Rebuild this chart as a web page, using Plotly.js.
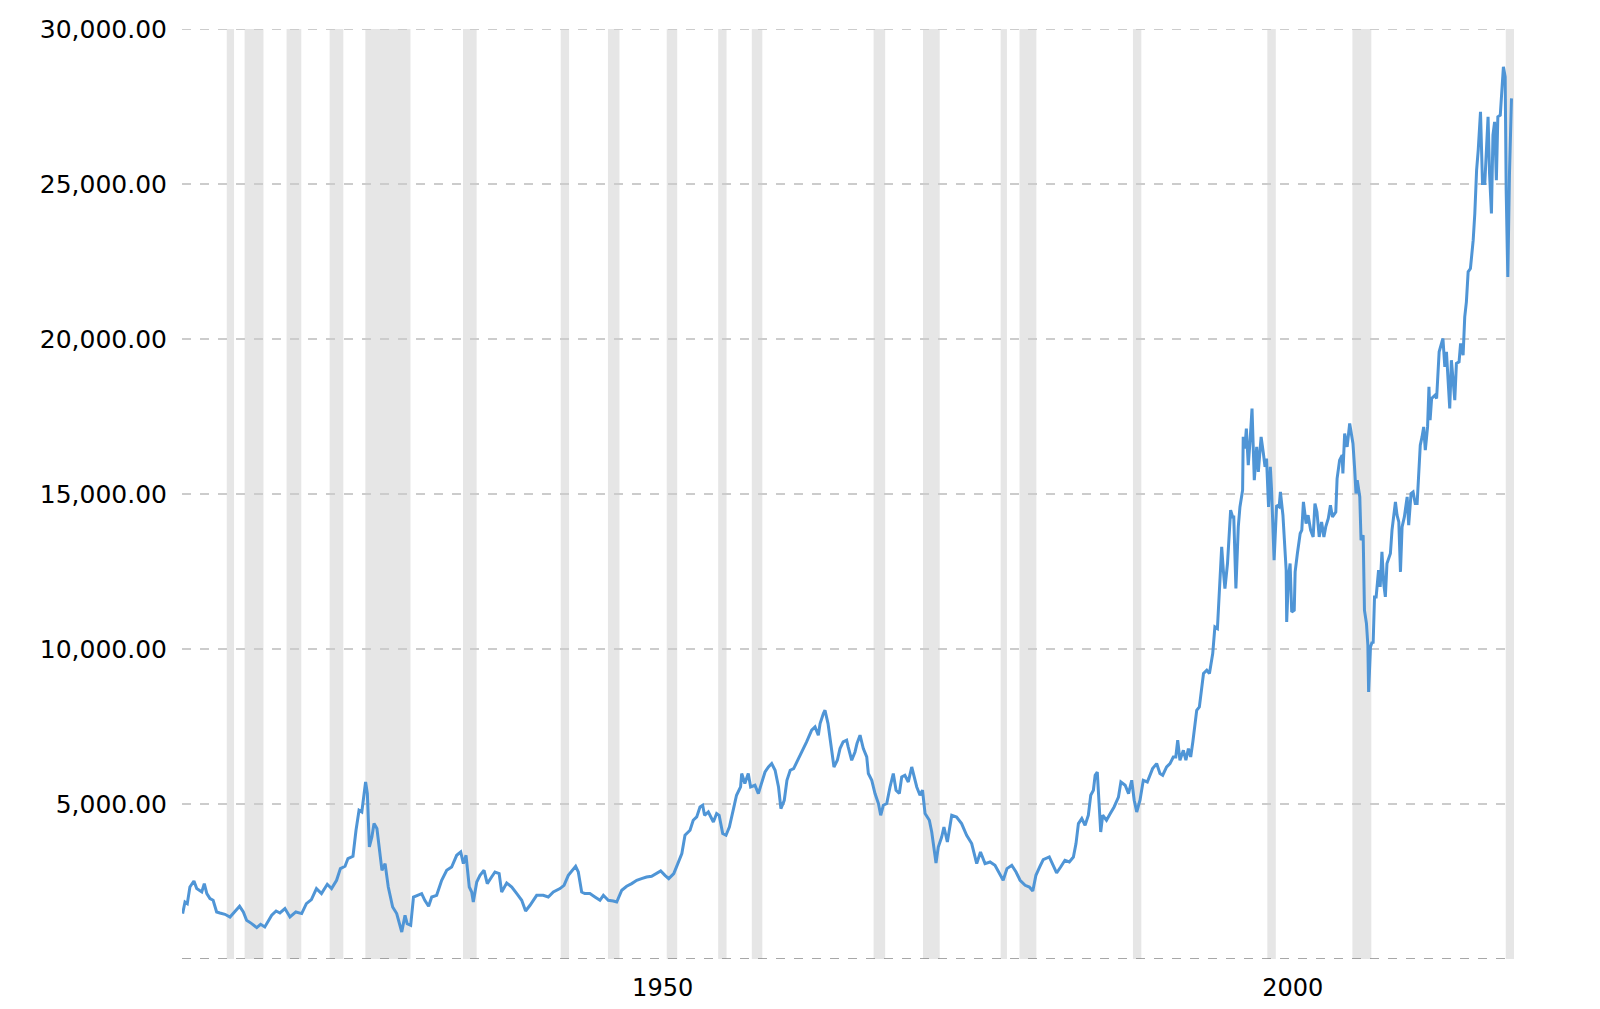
<!DOCTYPE html>
<html>
<head>
<meta charset="utf-8">
<script src="https://cdn.plot.ly/plotly-3.0.1.min.js"></script>
<style>
  html, body { margin: 0; padding: 0; background: #ffffff; }
  #chart { width: 1600px; height: 1009px; }
</style>
</head>
<body>
<div id="chart"></div>
<script>
// Decimal years and inflation-adjusted index values
const years = [
1915.08,1915.27,1915.45,1915.66,1915.98,1916.2,1916.6,1916.8,1917.0,1917.25,1917.5,1917.78,1918.04,1918.44,1918.84,1919.2,1919.6,1919.9,
1920.16,1920.56,1920.96,1921.27,1921.6,1922.15,1922.5,1922.8,1923.2,1923.6,1924.07,1924.53,1924.9,1925.3,1925.7,1926.1,1926.56,1926.9,
1927.3,1927.6,1927.97,1928.2,1928.6,1928.84,1929.08,1929.3,1929.4,1929.6,1929.74,1929.9,1930.1,1930.27,1930.5,1930.9,1931.15,1931.4,
1931.75,1932.07,1932.47,1932.73,1932.9,1933.18,
1933.4,1933.7,1934.05,1934.3,1934.6,1934.85,1935.24,1935.64,1936.04,1936.43,1936.83,1937.15,1937.36,1937.57,1937.83,1938.02,1938.15,
1938.42,1938.68,1939.0,1939.26,1939.6,1939.87,1940.2,1940.4,1940.8,1941.2,1941.6,1941.99,1942.3,1942.65,1943.18,1943.7,1944.1,1944.5,
1945.03,1945.35,1945.69,1946.0,1946.27,1946.48,1946.75,1947.0,1947.4,1947.8,1948.2,1948.47,1948.86,1949.26,1949.53,1949.93,1950.32,
1950.72,1951.12,1951.5,1951.9,1952.3,1952.7,1953.02,1953.36,
1953.66,1954.06,1954.46,1954.7,1954.95,1955.35,1955.6,1955.88,1956.14,1956.35,1956.5,1956.8,1957.2,1957.46,1957.66,1957.94,1958.2,
1958.47,1958.8,1959.04,1959.36,1959.45,1959.7,1959.97,1960.16,1960.5,1960.77,1961.04,1961.3,1961.57,1961.83,1962.1,1962.37,1962.56,
1962.83,1963.04,1963.3,1963.57,1963.9,1964.25,1964.6,1965.0,1965.27,1965.53,1965.67,1965.93,1966.06,1966.3,1966.5,1966.77,1967.04,
1967.25,1967.5,1967.78,1967.9,1968.18,1968.44,1968.6,1968.84,1969.1,1969.37,1969.5,1969.77,1970.03,1970.3,1970.48,1970.69,1970.96,
1971.22,1971.48,1971.7,1971.96,1972.15,1972.4,1972.67,1972.94,
1973.34,1973.6,1973.8,1974.0,1974.34,1974.53,1974.87,1975.05,1975.32,1975.5,1975.77,1976.12,1976.5,1976.9,1977.3,1977.7,1978.1,1978.4,
1978.76,1979.16,1979.55,1979.9,1980.2,1980.5,1980.88,1981.22,1981.54,1981.94,1982.28,1982.55,1982.8,1983.1,1983.38,1983.86,1984.17,
1984.44,1984.76,1985.1,1985.45,1985.77,1985.98,1986.17,1986.44,1986.7,1986.96,1987.15,1987.36,1987.5,1987.67,1987.8,1987.94,1988.1,
1988.4,1988.7,1989.0,1989.35,1989.54,1989.88,1990.15,1990.4,1990.6,1990.8,1991.06,1991.32,1991.64,
1992.06,1992.38,1992.64,1992.86,1993.17,1993.44,1993.7,1993.9,1994.05,1994.23,1994.5,1994.7,1994.9,1995.08,1995.25,1995.43,1995.56,
1995.77,1995.96,1996.1,1996.36,1996.57,
1996.83,1997.0,1997.2,1997.35,1997.54,1997.67,1997.8,1998.0,1998.14,1998.25,1998.41,1998.5,1998.67,1998.86,1998.99,1999.2,1999.25,
1999.38,1999.5,1999.65,1999.8,1999.95,2000.13,2000.32,2000.45,2000.67,2000.85,2000.98,2001.1,2001.26,2001.4,2001.5,2001.7,2001.9,
2002.1,2002.2,2002.4,2002.66,2002.7,2002.84,2002.97,2003.1,2003.3,2003.37,2003.55,2003.77,2003.9,2004.03,2004.24,2004.4,2004.6,
2004.8,2004.94,2005.1,2005.28,2005.47,2005.65,2005.8,2006.0,2006.17,2006.33,2006.6,2006.7,2006.9,2007.1,2007.16,2007.3,2007.5,
2007.7,2007.83,
2007.96,2008.1,2008.2,2008.3,2008.5,2008.6,2008.77,2008.87,2009.03,2009.14,2009.2,2009.35,2009.48,2009.56,2009.67,2009.8,2009.99,
2010.12,2010.26,2010.4,2010.53,2010.66,2010.8,2010.93,2011.06,2011.2,2011.33,2011.46,2011.6,2011.73,2011.86,2012.04,2012.26,2012.38,
2012.57,2012.73,2012.9,2013.05,2013.17,2013.3,2013.44,2013.57,2013.7,2013.88,2013.99,
2014.08,2014.2,2014.47,2014.6,2014.8,2015.1,2015.25,2015.38,2015.64,2015.77,2016.04,2016.17,2016.38,2016.5,2016.7,2016.83,2016.96,
2017.1,2017.28,2017.5,2017.63,2017.77,2017.9,2018.08,2018.24,2018.42,2018.55,2018.68,2018.8,2018.95,2019.07,2019.2,2019.34,2019.46,
2019.65,2019.8,2019.9,2020.04,2020.12,2020.25,2020.38,2020.54
];
const values = [
1465,1839,1787,2323,2517,2271,2162,2433,2110,1949,1894,1517,1484,1442,1355,1517,1700,1517,
1249,1142,1013,1120,1033,1410,1549,1484,1626,1355,1517,1465,1787,1917,2271,2110,2410,2271,
2540,2917,2991,3240,3314,4153,4798,4743,5066,5712,5337,3614,3937,4369,4208,2862,3078,2323,
1678,1465,871,1410,1142,1087,
2000,2055,2110,1894,1700,2000,2055,2540,2862,2969,3346,3453,3078,3346,2323,2162,1839,
2485,2700,2862,2433,2646,2807,2755,2162,2452,2323,2110,1894,1549,1733,2055,2055,2000,2162,
2271,2378,2700,2862,2991,2807,2162,2110,2110,2000,1894,2055,1894,1872,1839,2217,2346,
2433,2540,2594,2646,2669,2755,2840,2700,
2594,2755,3185,3401,3992,4153,4476,4582,4905,4960,4637,4743,4421,4692,4637,4046,3992,
4259,4853,5282,5550,5983,5660,5983,5550,5605,5337,5660,6034,6195,6305,6089,5550,4853,
5121,5766,6089,6143,6412,6734,7002,7380,7486,7219,7596,7919,8025,7596,6951,6195,6412,
6789,7002,7057,6841,6412,6680,6951,7219,6789,6518,5983,5766,5337,5015,4637,4960,5015,
5550,5983,5444,5337,5873,5928,5712,6195,
5550,5282,5444,4692,4476,4098,3098,3614,3937,4259,3775,4637,4582,4369,3992,3724,3078,3453,
3078,3130,3024,2755,2540,2917,3024,2807,2540,2378,2323,2194,2700,2969,3208,3291,3024,
2775,2969,3185,3130,3291,3724,4369,4530,4314,4637,5282,5444,5928,6034,5227,4098,4637,
4476,4692,4905,5227,5712,5605,5337,5766,5121,4743,5121,5766,5712,
6143,6305,5983,5928,6195,6305,6518,6518,7057,6412,6734,6412,6789,6518,7002,7648,8025,
8132,8777,9209,9316,9209,
9855,10713,10661,11681,13295,12543,11952,12759,13617,14479,14263,14263,11952,13940,14585,15124,16844,
16470,17115,15931,16737,17760,15447,16521,15715,16844,16309,15876,16147,14585,15876,15124,12866,14640,
14585,15069,14317,12543,10874,12327,12759,11197,11252,12488,13082,13727,13834,14747,14049,14317,13834,
13617,14694,14424,13617,14101,13617,13940,14211,14640,14263,14424,15500,16092,16254,15663,16954,16521,
17276,16954,
16631,15770,15017,15447,14908,13510,13672,11252,10823,10123,8616,10068,10229,10177,11681,11681,12543,
12004,13133,12113,11681,12759,12972,13082,13834,14372,14747,14317,14101,12488,13940,14263,14908,13995,
15017,15069,14694,14694,15770,16577,16844,17167,16415,17167,18458,
17383,18083,18190,18083,19587,20019,19103,19587,17760,19319,18028,19212,19264,19858,19480,20716,21200,
22168,22277,23190,24051,25450,26095,27331,25020,25020,26202,27170,25343,24051,26579,27009,25128,27170,
27224,28247,28785,28462,24805,22007,25343,27765
];

// Recession periods (start / end month)
const recessionStart = ['1918-08-01','1920-01-01','1923-05-01','1926-10-01','1929-08-01','1937-05-01','1945-02-01','1948-11-01',
  '1953-07-01','1957-08-01','1960-04-01','1969-12-01','1973-11-01','1980-01-01','1981-07-01','1990-07-01','2001-03-01','2007-12-01','2020-02-01'];
const recessionEnd = ['1919-03-01','1921-07-01','1924-07-01','1927-11-01','1933-03-01','1938-06-01','1945-10-01','1949-10-01',
  '1954-05-01','1958-04-01','1961-02-01','1970-11-01','1975-03-01','1980-07-01','1982-11-01','1991-03-01','2001-11-01','2009-06-01','2020-09-30'];

const xTickVals = ['1950-01-01','2000-01-01'];
const xTickText = ['1950','2000'];
const yTickVals = [5000,10000,15000,20000,25000,30000];
const yMin = 0, yMax = 30000;

function toDate(y) {
  const yr = Math.floor(y);
  const frac = y - yr;
  const a = Date.UTC(yr,0,1), b = Date.UTC(yr+1,0,1);
  return new Date(a + frac*(b-a)).toISOString().slice(0,10);
}
const dates = years.map(toDate);

const shapes = recessionStart.map((s,i) => ({
  type: 'rect', xref: 'x', yref: 'y', x0: s, x1: recessionEnd[i], y0: yMin, y1: yMax,
  fillcolor: '#e6e6e6', line: {width: 0}, layer: 'below'
}));
// darker dashed baseline at zero
shapes.push({
  type: 'line', xref: 'paper', yref: 'y', x0: 0, x1: 1, y0: yMin, y1: yMin,
  line: {color: '#8a8a8a', width: 1.3, dash: '9px,9px'}, layer: 'above'
});

const trace = {
  x: dates, y: values, type: 'scatter', mode: 'lines',
  line: {color: '#4f95d6', width: 3},
  hoverinfo: 'x+y'
};

const layout = {
  width: 1600, height: 1009,
  margin: {l: 182, r: 86, t: 26, b: 50},
  paper_bgcolor: '#ffffff', plot_bgcolor: 'rgba(0,0,0,0)',
  showlegend: false,
  font: {family: 'DejaVu Sans, Verdana, sans-serif', color: '#000000'},
  xaxis: {
    type: 'date',
    range: ['1915-01-12','2020-09-27'],
    tickmode: 'array', tickvals: xTickVals, ticktext: xTickText,
    ticklabelshift: 40, ticklabelstandoff: 12,
    showgrid: false, zeroline: false, showline: false, ticks: '',
    tickfont: {size: 24, color: '#000000'}
  },
  yaxis: {
    range: [0, 30100],
    tickmode: 'array', tickvals: yTickVals,
    tickformat: ',.2f',
    showgrid: true, gridcolor: '#cccccc', gridwidth: 1.2, griddash: '9px,9px',
    zeroline: false, showline: false, ticks: '',
    ticklabelstandoff: 14,
    tickfont: {size: 25, color: '#000000'}
  },
  shapes: shapes
};

Plotly.newPlot('chart', [trace], layout, {displayModeBar: false, staticPlot: true});
</script>
</body>
</html>
